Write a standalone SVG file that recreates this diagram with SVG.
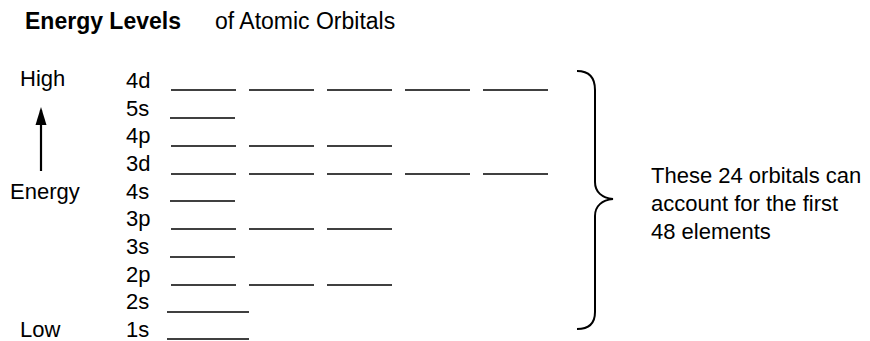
<svg xmlns="http://www.w3.org/2000/svg" width="870" height="341" viewBox="0 0 870 341">
<style>
text{font-family:"Liberation Sans",Arial,sans-serif;font-size:22px;fill:#000}
.t{font-size:23px}
.b{font-weight:bold}
.lv{stroke:#000;stroke-width:1.6;fill:none}
.br{stroke:#000;stroke-width:2;fill:none}
</style>
<defs>
<g id="l5"><line class="lv" x1="171" y1="0" x2="236" y2="0"/><line class="lv" x1="249" y1="0" x2="314" y2="0"/><line class="lv" x1="327" y1="0" x2="392" y2="0"/><line class="lv" x1="405" y1="0" x2="470" y2="0"/><line class="lv" x1="483" y1="0" x2="548" y2="0"/></g>
<g id="l3"><line class="lv" x1="171" y1="0" x2="236" y2="0"/><line class="lv" x1="249" y1="0" x2="314" y2="0"/><line class="lv" x1="327" y1="0" x2="392" y2="0"/></g>
<g id="l1"><line class="lv" x1="170" y1="0" x2="235" y2="0"/></g>
<g id="lL"><line class="lv" x1="167" y1="0" x2="249" y2="0"/></g>
</defs>
<g id="title">
<text class="t b" x="25" y="29">Energy Levels</text>
<text class="t" x="215" y="29">of Atomic Orbitals</text>
</g>
<g id="axis">
<text x="20" y="86">High</text>
<text x="10" y="199">Energy</text>
<text x="20" y="337">Low</text>
</g>
<g id="connectors">
<line x1="41" y1="171" x2="41" y2="110" stroke="#000" stroke-width="2.2"/>
<path d="M41,107 L35.5,125 L46.5,125 Z" fill="#000"/>
</g>
<g id="row-4d"><text x="126" y="88">4d</text><use href="#l5" y="90"/></g>
<g id="row-5s"><text x="126" y="116">5s</text><use href="#l1" y="118"/></g>
<g id="row-4p"><text x="126" y="143">4p</text><use href="#l3" y="146"/></g>
<g id="row-3d"><text x="126" y="171">3d</text><use href="#l5" y="174"/></g>
<g id="row-4s"><text x="126" y="199">4s</text><use href="#l1" y="201"/></g>
<g id="row-3p"><text x="126" y="226">3p</text><use href="#l3" y="229"/></g>
<g id="row-3s"><text x="126" y="254">3s</text><use href="#l1" y="257"/></g>
<g id="row-2p"><text x="126" y="282">2p</text><use href="#l3" y="285"/></g>
<g id="row-2s"><text x="126" y="309">2s</text><use href="#lL" y="312"/></g>
<g id="row-1s"><text x="126" y="337">1s</text><use href="#lL" y="339"/></g>
<g id="brace">
<path class="br" d="M577,71 C590,71 595,78 595,90 L595,182 C595,192 602,198 613,199 C602,200 595,206 595,216 L595,312 C595,323 590,329 577,329"/>
</g>
<g id="note">
<text x="651" y="183">These 24 orbitals can</text>
<text x="651" y="211">account for the first</text>
<text x="651" y="239">48 elements</text>
</g>
</svg>
